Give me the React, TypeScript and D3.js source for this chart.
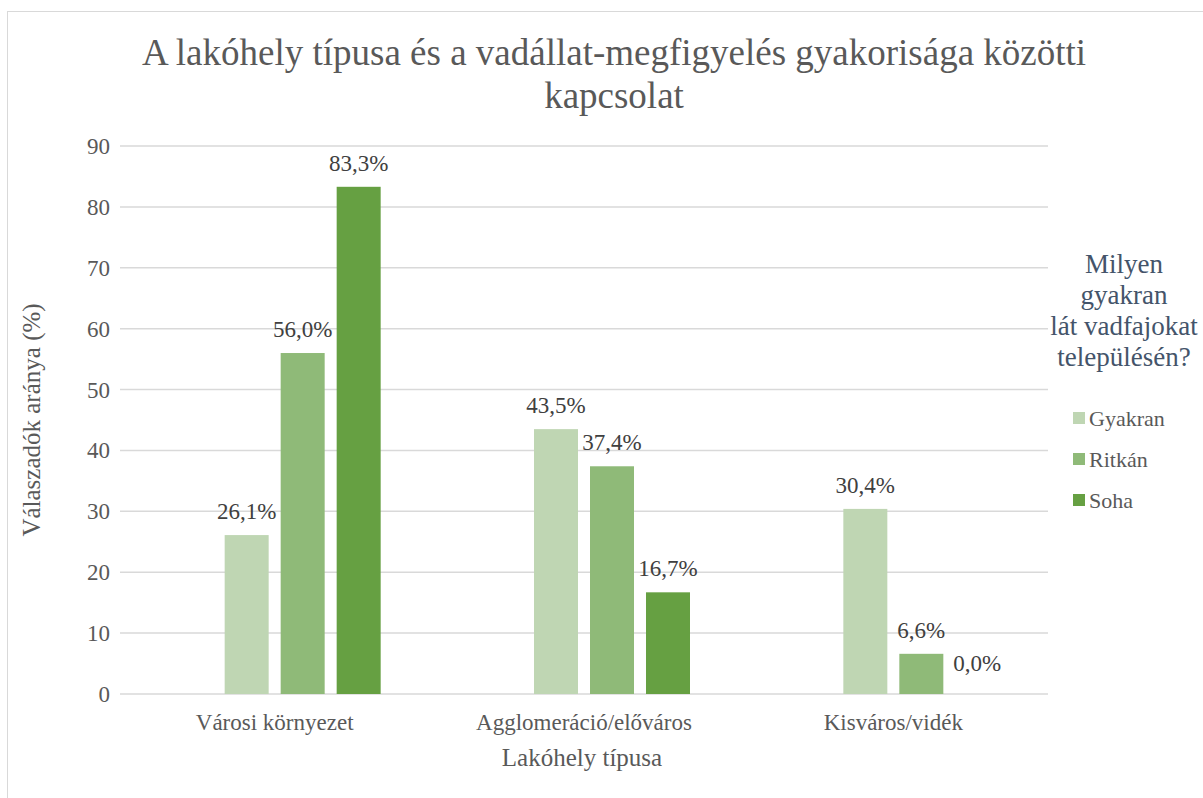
import React from "react";
import * as d3 from "d3";

// data
const categories = ["Városi környezet", "Agglomeráció/előváros", "Kisváros/vidék"];
const seriesNames = ["Gyakran", "Ritkán", "Soha"];
const gyakran = [26.1, 43.5, 30.4];
const ritkan = [56.0, 37.4, 6.6];
const soha = [83.3, 16.7, 0.0];
const yTicks = [0, 10, 20, 30, 40, 50, 60, 70, 80, 90];
const colors = ["#bfd6b3", "#8fba78", "#66a042"];

const W = 1203;
const H = 798;
const FONT = '"Liberation Serif", "Times New Roman", serif';

const App = () => {
  const values = [gyakran, ritkan, soha];

  // plot area
  const left = 120;
  const right = 1048;
  const top = 146;
  const bottom = 694;

  const x0 = d3.scaleBand<string>().domain(categories).range([left, right]);
  // Excel leaves an empty first slot in each group
  const x1 = d3
    .scaleBand<string>()
    .domain(["", ...seriesNames])
    .range([0, 224])
    .paddingInner(12 / 56)
    .paddingOuter(6 / 56);
  const groupOffset = (x0.bandwidth() - 224) / 2;
  const y = d3.scaleLinear().domain([0, 90]).range([bottom, top]);

  const fmt = (v: number) => v.toFixed(1).replace(".", ",") + "%";

  return (
    <div style={{ position: "fixed", left: 0, top: 0 }}>
      <svg width={W} height={H} style={{ display: "block", background: "#fff", fontFamily: FONT }}>
        <rect x={7.5} y={11.5} width={W} height={H} fill="#fff" stroke="#d9d9d9" />

        {/* title */}
        <text x={614} y={65} textAnchor="middle" fontSize={37} fill="#595959">
          A lakóhely típusa és a vadállat-megfigyelés gyakorisága közötti
        </text>
        <text x={614} y={108} textAnchor="middle" fontSize={37} fill="#595959">
          kapcsolat
        </text>

        {/* gridlines + y ticks */}
        {yTicks.map((t) => (
          <g key={t}>
            <line x1={left} x2={right} y1={y(t)} y2={y(t)} stroke="#d9d9d9" strokeWidth={1.5} />
            <text x={110} y={y(t)} dy="0.35em" textAnchor="end" fontSize={23} fill="#595959">
              {t}
            </text>
          </g>
        ))}

        {/* bars */}
        {categories.map((c, ci) => (
          <g key={c} transform={`translate(${(x0(c) ?? 0) + groupOffset},0)`}>
            {seriesNames.map((s, si) => {
              const v = values[si][ci];
              const bx = x1(s) ?? 0;
              return (
                <g key={s}>
                  <rect
                    x={bx}
                    y={y(v)}
                    width={x1.bandwidth()}
                    height={bottom - y(v)}
                    fill={colors[si]}
                  />
                  <text
                    x={bx + x1.bandwidth() / 2}
                    y={y(v) - (v === 0 ? 23 : 16)}
                    textAnchor="middle"
                    fontSize={23}
                    fill="#404040"
                  >
                    {fmt(v)}
                  </text>
                </g>
              );
            })}
          </g>
        ))}

        {/* category labels */}
        {categories.map((c) => (
          <text
            key={c}
            x={(x0(c) ?? 0) + x0.bandwidth() / 2}
            y={730}
            textAnchor="middle"
            fontSize={23}
            fill="#595959"
          >
            {c}
          </text>
        ))}

        {/* axis titles */}
        <text x={582} y={766} textAnchor="middle" fontSize={25} fill="#595959">
          Lakóhely típusa
        </text>
        <text
          transform={`translate(40,${(top + bottom) / 2}) rotate(-90)`}
          textAnchor="middle"
          fontSize={25}
          fill="#595959"
        >
          Válaszadók aránya (%)
        </text>

        {/* legend */}
        {["Milyen", "gyakran", "lát vadfajokat", "településén?"].map((l, i) => (
          <text key={l} x={1124} y={273 + i * 31} textAnchor="middle" fontSize={27} fill="#44546a">
            {l}
          </text>
        ))}
        {seriesNames.map((s, i) => (
          <g key={s} transform={`translate(1073,${418 + i * 41})`}>
            <rect x={0} y={-6} width={12} height={12} fill={colors[i]} />
            <text x={16} y={0} dy="0.35em" fontSize={22} fill="#595959">
              {s}
            </text>
          </g>
        ))}
      </svg>
    </div>
  );
};

export default App;
